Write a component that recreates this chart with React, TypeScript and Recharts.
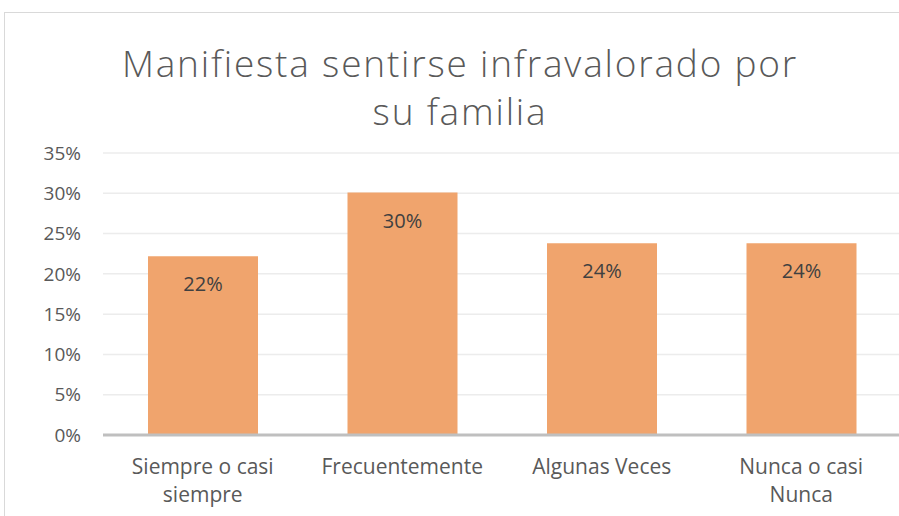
import React from "react";
import { BarChart, Bar, XAxis, YAxis, CartesianGrid, LabelList } from "recharts";

const categories = ["Siempre o casi siempre", "Frecuentemente", "Algunas Veces", "Nunca o casi Nunca"];
const tickLabels = ["Siempre o casi\nsiempre", "Frecuentemente", "Algunas Veces", "Nunca o casi\nNunca"];
const values = [0.222, 0.301, 0.238, 0.238];
const valueLabels = ["22%", "30%", "24%", "24%"];
const yTicks = [0, 0.05, 0.1, 0.15, 0.2, 0.25, 0.3, 0.35];
const titleLines = ["Manifiesta sentirse infravalorado por", "su familia"];

const data = categories.map((c, i) => ({ name: c, value: values[i], label: valueLabels[i], tick: tickLabels[i] }));

const FONT = "'Open Sans', 'Liberation Sans', sans-serif";
const GRAY = "#595959";

const XTick = (props: any) => {
  const { x, y, index } = props;
  const lines = tickLabels[index].split("\n");
  return (
    <text x={x} y={y} textAnchor="middle" fontSize={21} fontFamily={FONT} fill={GRAY}>
      {lines.map((l, i) => (
        <tspan key={i} x={x} dy={i === 0 ? 31 : 28}>
          {l}
        </tspan>
      ))}
    </text>
  );
};

export default function App() {
  return (
    <div style={{ position: "fixed", left: 0, top: 0, width: 899, height: 516, overflow: "hidden", background: "#fff" }}>
      <BarChart
        width={910}
        height={516}
        data={data}
        margin={{ top: 153, right: 9, bottom: 0, left: 0 }}
        barCategoryGap={0}
      >
        <rect x={4.5} y={12.5} width={1000} height={700} fill="none" stroke="#d9d9d9" strokeWidth={1} />
        <text x={460} y={62} textAnchor="middle" dominantBaseline="central" fontSize={37} letterSpacing={1.8} fontWeight={300} fontFamily={FONT} fill={GRAY}>
          {titleLines[0]}
        </text>
        <text x={460} y={110} textAnchor="middle" dominantBaseline="central" fontSize={37} letterSpacing={1.8} fontWeight={300} fontFamily={FONT} fill={GRAY}>
          {titleLines[1]}
        </text>
        <CartesianGrid vertical={false} stroke="#ececec" strokeWidth={1.5} />
        <XAxis
          dataKey="name"
          height={81}
          axisLine={{ stroke: "#bfbfbf", strokeWidth: 3 }}
          tickLine={false}
          tick={<XTick />}
          interval={0}
        />
        <YAxis
          width={103}
          domain={[0, 0.35]}
          ticks={yTicks}
          tickFormatter={(v: number) => `${Math.round(v * 100)}%`}
          axisLine={false}
          tickLine={false}
          tickSize={0}
          tickMargin={22}
          tick={{ fontSize: 19, fontFamily: FONT, fill: GRAY }}
        />
        <Bar dataKey="value" fill="#F0A46D" barSize={110} isAnimationActive={false}>
          <LabelList
            dataKey="label"
            position="insideTop"
            offset={21}
            style={{ fontSize: 20, fontFamily: FONT, fill: "#404040" }}
          />
        </Bar>
      </BarChart>
    </div>
  );
}
